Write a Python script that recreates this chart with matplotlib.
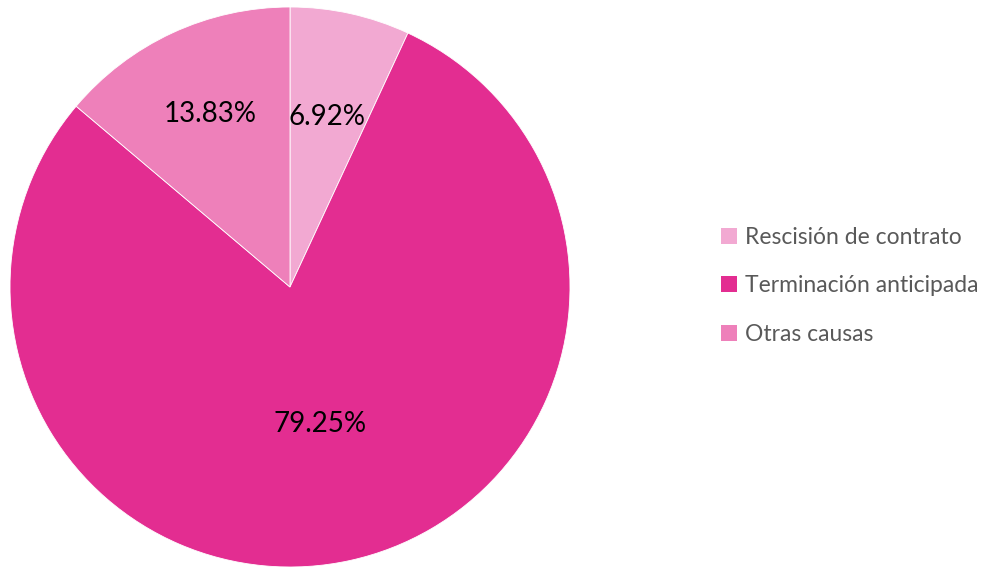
import matplotlib.pyplot as plt
import numpy as np

labels = ['Rescisión de contrato', 'Terminación anticipada', 'Otras causas']
values = [6.92, 79.25, 13.83]
colors = ['#F2A9D2', '#E32D91', '#EE80BA']
label_dist = [0.62, 0.50, 0.68]

plt.rcParams['font.family'] = ['Lato', 'DejaVu Sans']

fig = plt.figure(figsize=(9.98, 5.68), dpi=100)
ax = fig.add_axes([10 / 998, 1 / 568, 560 / 998, 560 / 568])
wedges, _ = ax.pie(values, colors=colors, startangle=90, counterclock=False,
                   wedgeprops=dict(edgecolor='white', linewidth=0.6))
ax.set_xlim(-1, 1)
ax.set_ylim(-1, 1)
ax.set_aspect('equal')

for w, v, d in zip(wedges, values, label_dist):
    ang = np.deg2rad((w.theta1 + w.theta2) / 2)
    ax.text(d * np.cos(ang), d * np.sin(ang), f'{v:.2f}%', ha='center', va='center',
            fontsize=20, color='black')

handles = [plt.Rectangle((0, 0), 1, 1, facecolor=c) for c in colors]
fig.legend(handles, labels, loc='center left', bbox_to_anchor=(700 / 998, 0.497),
           frameon=False, fontsize=16.5, labelcolor='#595959', handlelength=0.7,
           handleheight=0.7, handletextpad=0.35, labelspacing=1.2)

fig.savefig('out.png', dpi=100)
